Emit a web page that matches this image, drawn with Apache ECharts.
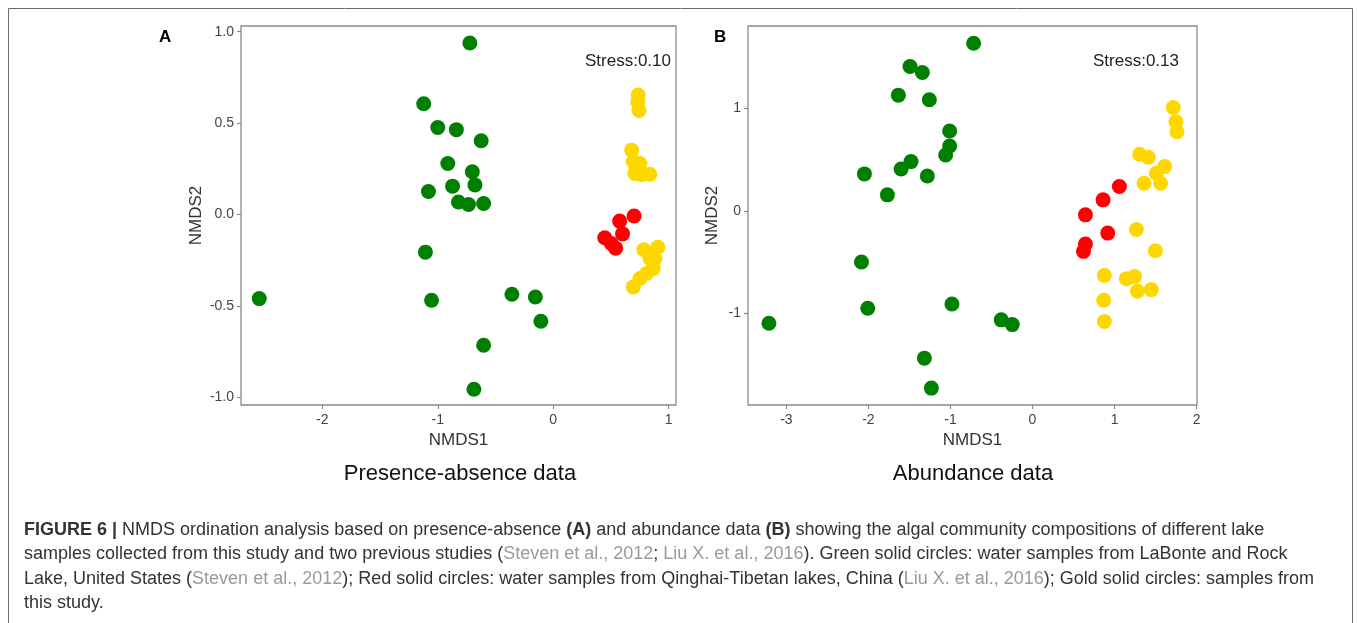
<!DOCTYPE html>
<html>
<head>
<meta charset="utf-8">
<script src="https://cdn.jsdelivr.net/npm/echarts@6/dist/echarts.min.js"></script>
<style>
html,body{margin:0;padding:0;background:#fff;}
#c{width:1357px;height:623px;}
</style>
</head>
<body>
<div id="c"></div>
<script>
// ---- Panel A: presence-absence data (NMDS1, NMDS2) ----
const greenA = [
  [-0.722,0.938],[-1.122,0.606],[-1.000,0.476],[-0.839,0.464],[-0.624,0.403],
  [-0.913,0.279],[-0.701,0.234],[-0.678,0.162],[-1.081,0.126],[-0.872,0.155],
  [-0.821,0.068],[-0.734,0.055],[-0.603,0.060],[-1.107,-0.206],[-2.546,-0.460],
  [-1.054,-0.469],[-0.358,-0.436],[-0.155,-0.451],[-0.107,-0.584],[-0.603,-0.715],
  [-0.687,-0.956]
];
const redA = [
  [0.700,-0.008],[0.575,-0.036],[0.600,-0.106],[0.446,-0.127],[0.502,-0.159],[0.540,-0.184]
];
const goldA = [
  [0.736,0.653],[0.732,0.616],[0.742,0.569],
  [0.679,0.352],[0.693,0.290],[0.750,0.279],[0.736,0.252],[0.707,0.224],[0.765,0.218],[0.837,0.220],
  [0.785,-0.193],[0.905,-0.179],[0.881,-0.241],[0.837,-0.241],[0.866,-0.295],[0.808,-0.323],[0.751,-0.350],[0.693,-0.396]
];
// ---- Panel B: abundance data ----
const greenB = [
  [-0.718,1.634],[-1.493,1.407],[-1.343,1.348],[-1.635,1.128],[-1.258,1.083],
  [-1.010,0.778],[-1.010,0.632],[-1.059,0.545],[-1.481,0.480],[-1.602,0.408],
  [-1.282,0.340],[-2.049,0.360],[-1.769,0.156],[-2.085,-0.499],[-2.008,-0.950],
  [-3.213,-1.096],[-0.982,-0.908],[-0.381,-1.063],[-0.247,-1.109],[-1.318,-1.436],
  [-1.233,-1.728]
];
const redB = [
  [1.059,0.237],[0.860,0.107],[0.645,-0.039],[0.917,-0.217],[0.645,-0.324],[0.621,-0.395]
];
const goldB = [
  [1.716,1.008],[1.748,0.869],[1.761,0.771],[1.306,0.551],[1.412,0.522],[1.611,0.431],
  [1.509,0.366],[1.359,0.269],[1.562,0.269],[1.266,-0.182],[1.497,-0.389],[0.876,-0.629],
  [1.144,-0.661],[1.245,-0.639],[1.278,-0.784],[1.448,-0.768],[0.868,-0.872],[0.876,-1.079]
];
// ---- Tick labels ----
const xTicksA = [-2,-1,0,1];
const yTicksA = [-1.0,-0.5,0.0,0.5,1.0];
const xTicksB = [-3,-2,-1,0,1,2];
const yTicksB = [-1,0,1];
const stressA = 'Stress:0.10';
const stressB = 'Stress:0.13';
const subtitleA = 'Presence-absence data';
const subtitleB = 'Abundance data';

const FONT = '"Liberation Sans", Arial, Helvetica, sans-serif';
const AX = '#8a8a8a';

function xAxis(idx, min, max, ticks) {
  return {
    gridIndex: idx, type: 'value', min: min, max: max,
    name: 'NMDS1', nameLocation: 'middle', nameGap: 26,
    nameTextStyle: {fontFamily: FONT, fontSize: 17, color: '#333'},
    axisLine: {show: false, onZero: false},
    axisTick: {show: true, inside: false, length: 4, customValues: ticks, lineStyle: {color: AX, width: 1.2}},
    axisLabel: {customValues: ticks, margin: 8, fontFamily: FONT, fontSize: 14, color: '#444'},
    splitLine: {show: false}
  };
}
function yAxis(idx, min, max, ticks, dec, gap) {
  return {
    gridIndex: idx, type: 'value', min: min, max: max,
    name: 'NMDS2', nameLocation: 'middle', nameGap: gap,
    nameTextStyle: {fontFamily: FONT, fontSize: 17, color: '#333'},
    axisLine: {show: false, onZero: false},
    axisTick: {show: true, inside: false, length: 4, customValues: ticks, lineStyle: {color: AX, width: 1.2}},
    axisLabel: {customValues: ticks, margin: 7, fontFamily: FONT, fontSize: 14, color: '#444',
      formatter: v => dec ? v.toFixed(1) : String(Math.round(v))},
    splitLine: {show: false}
  };
}
function pts(name, data, color, idx) {
  return {
    name: name, type: 'scatter', xAxisIndex: idx, yAxisIndex: idx,
    data: data, symbol: 'circle', symbolSize: 15,
    itemStyle: {color: color, opacity: 1},
    silent: true, animation: false
  };
}

const chart = echarts.init(document.getElementById('c'), null, {renderer: 'canvas'});
const FS = 18;
const cap = {
  fontFamily: FONT, fontSize: FS, fill: '#333',
  rich: {
    b: {fontFamily: FONT, fontSize: FS, fontWeight: 'bold', fill: '#333', color: '#333'},
    g: {fontFamily: FONT, fontSize: FS, fill: '#9a9a9a', color: '#9a9a9a'},
    n: {fontFamily: FONT, fontSize: FS, fill: '#333', color: '#333'}
  }
};
function capLine(y, text) {
  return {type: 'text', left: 24, top: y, style: Object.assign({text: text}, cap), silent: true};
}

chart.setOption({
  backgroundColor: '#fff',
  animation: false,
  grid: [
    {left: 241, top: 26, width: 435, height: 379, show: true, borderColor: AX, borderWidth: 1.3, backgroundColor: 'transparent'},
    {left: 748, top: 26, width: 449, height: 379, show: true, borderColor: AX, borderWidth: 1.3, backgroundColor: 'transparent'}
  ],
  xAxis: [xAxis(0, -2.704, 1.063, xTicksA), xAxis(1, -3.468, 2.005, xTicksB)],
  yAxis: [yAxis(0, -1.042, 1.031, yTicksA, true, 36), yAxis(1, -1.893, 1.802, yTicksB, false, 27)],
  series: [
    pts('Green A', greenA, '#008000', 0),
    pts('Red A', redA, '#ff0000', 0),
    pts('Gold A', goldA, '#ffd700', 0),
    pts('Green B', greenB, '#008000', 1),
    pts('Red B', redB, '#ff0000', 1),
    pts('Gold B', goldB, '#ffd700', 1)
  ],
  graphic: [
    {type: 'rect', shape: {x: 8.5, y: 8.5, width: 1344, height: 640}, style: {fill: 'none', stroke: '#6a6a6a', lineWidth: 1}, silent: true, z: -1},
    {type: 'text', left: 159, top: 29, style: {text: 'A', fontFamily: FONT, fontSize: 17, fontWeight: 'bold', fill: '#000'}},
    {type: 'text', left: 714, top: 29, style: {text: 'B', fontFamily: FONT, fontSize: 17, fontWeight: 'bold', fill: '#000'}},
    {type: 'text', right: 1357 - 671, top: 53, style: {text: stressA, fontFamily: FONT, fontSize: 17, fill: '#222'}},
    {type: 'text', right: 1357 - 1179, top: 53, style: {text: stressB, fontFamily: FONT, fontSize: 17, fill: '#222'}},
    {type: 'text', x: 460, y: 474, style: {text: subtitleA, fontFamily: FONT, fontSize: 22, fill: '#111', align: 'center', verticalAlign: 'middle'}},
    {type: 'text', x: 973, y: 474, style: {text: subtitleB, fontFamily: FONT, fontSize: 22, fill: '#111', align: 'center', verticalAlign: 'middle'}},
    capLine(521, '{b|FIGURE 6 |}{n| NMDS ordination analysis based on presence-absence }{b|(A)}{n| and abundance data }{b|(B)}{n| showing the algal community compositions of different lake}'),
    capLine(545, '{n|samples collected from this study and two previous studies (}{g|Steven et al., 2012}{n|; }{g|Liu X. et al., 2016}{n|). Green solid circles: water samples from LaBonte and Rock}'),
    capLine(570, '{n|Lake, United States (}{g|Steven et al., 2012}{n|); Red solid circles: water samples from Qinghai-Tibetan lakes, China (}{g|Liu X. et al., 2016}{n|); Gold solid circles: samples from}'),
    capLine(594, '{n|this study.}')
  ]
});
</script>
</body>
</html>
